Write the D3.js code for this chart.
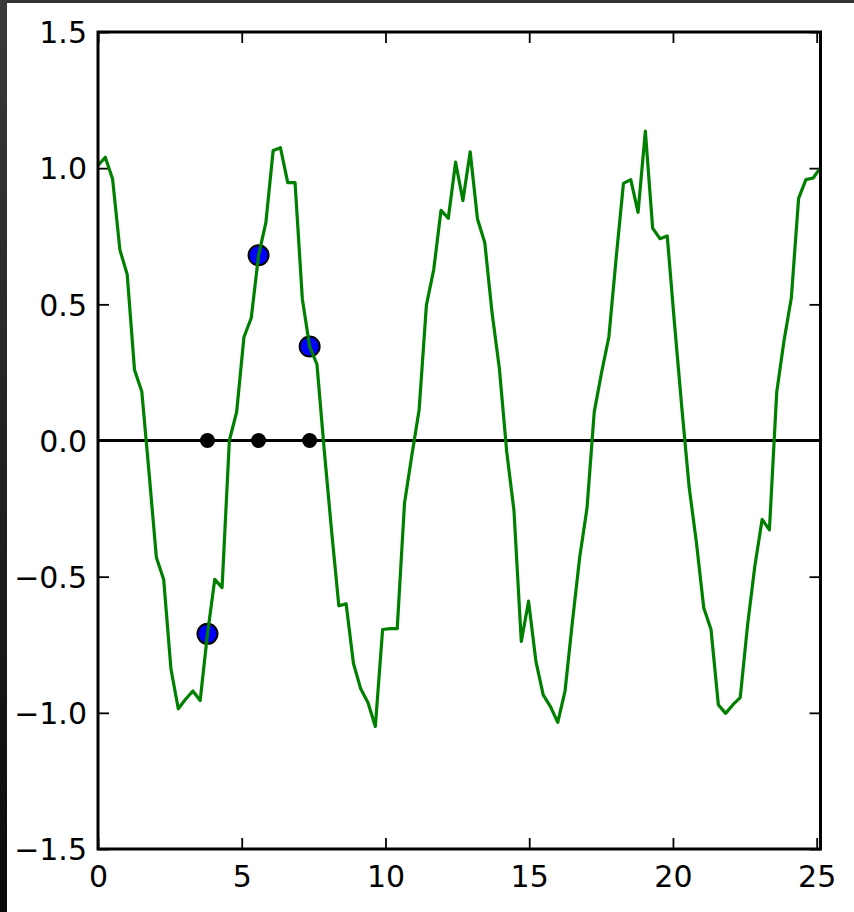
<!DOCTYPE html>
<html>
<head>
<meta charset="utf-8">
<script src="https://cdn.jsdelivr.net/npm/d3@7"></script>
<style>
  body { margin: 0; background: #fff; }
  svg { display: block; }
  .tick text { font-family: "DejaVu Sans", sans-serif; font-size: 30px; fill: #000; }
</style>
</head>
<body>
<div id="chart"></div>
<script>
// noisy cosine, 100 samples over [0, 8*pi]
const nPts = 100;
const xMax = 8 * Math.PI;
const yVals = [
  1.01, 1.04, 0.96, 0.70, 0.61, 0.26, 0.18, -0.12, -0.43, -0.51,
  -0.84, -0.985, -0.95, -0.92, -0.955, -0.71, -0.51, -0.54, 0.00, 0.105,
  0.38, 0.45, 0.68, 0.80, 1.065, 1.075, 0.947, 0.947, 0.52, 0.345,
  0.28, -0.035, -0.33, -0.607, -0.60, -0.818, -0.912, -0.963, -1.05, -0.694,
  -0.691, -0.691, -0.23, -0.055, 0.112, 0.497, 0.627, 0.845, 0.816, 1.022,
  0.881, 1.06, 0.813, 0.726, 0.468, 0.264, -0.04, -0.258, -0.738, -0.59,
  -0.81, -0.934, -0.977, -1.035, -0.919, -0.667, -0.43, -0.25, 0.105, 0.25,
  0.38, 0.67, 0.944, 0.958, 0.838, 1.136, 0.78, 0.741, 0.751, 0.427,
  0.12, -0.171, -0.375, -0.614, -0.694, -0.97, -1.002, -0.97, -0.944, -0.68,
  -0.462, -0.29, -0.328, 0.177, 0.366, 0.523, 0.889, 0.958, 0.964, 1.002
];
// picked samples (every 7th point from 15)
const sampleIdx = [15, 22, 29];

const xTicks = [0, 5, 10, 15, 20, 25];
const yTicks = [-1.5, -1.0, -0.5, 0.0, 0.5, 1.0, 1.5];

const W = 854, H = 912;
const plotL = 98, plotR = 820.5, plotT = 32, plotB = 849;

const svg = d3.select("#chart").append("svg")
    .attr("width", W)
    .attr("height", H);

// dark edges of the screenshot
const grad = svg.append("defs").append("linearGradient")
    .attr("id", "edge").attr("x1", 0).attr("y1", 0).attr("x2", 0).attr("y2", 1);
grad.append("stop").attr("offset", "0%").attr("stop-color", "#3a3a3a");
grad.append("stop").attr("offset", "100%").attr("stop-color", "#0a0a0a");
svg.append("rect").attr("x", 0).attr("y", 0).attr("width", W).attr("height", 3).attr("fill", "#333");
svg.append("rect").attr("x", 0).attr("y", 0).attr("width", 7).attr("height", H).attr("fill", "url(#edge)");

const x = d3.scaleLinear().domain([0, xMax]).range([plotL, plotR]);
const y = d3.scaleLinear().domain([-1.5, 1.5]).range([plotB, plotT]);

const data = yVals.map((v, i) => ({x: i * xMax / (nPts - 1), y: v}));
const samples = sampleIdx.map(i => data[i]);

const minus = d => d3.format(".1f")(d).replace("-", "\u2212");

// axes, ticks point inward
svg.append("g")
    .attr("transform", `translate(0, ${plotB})`)
    .call(d3.axisBottom(x).tickValues(xTicks).tickSizeInner(-11).tickSizeOuter(0).tickPadding(16).tickFormat(d3.format("d")))
    .call(g => g.select(".domain").remove())
    .call(g => g.selectAll(".tick line").attr("stroke-width", 1.8))
    .call(g => g.selectAll(".tick text").attr("dy", null).attr("y", 38));

svg.append("g")
    .attr("transform", `translate(0, ${plotT})`)
    .call(d3.axisTop(x).tickValues(xTicks).tickSizeInner(-11).tickSizeOuter(0).tickFormat(""))
    .call(g => g.select(".domain").remove())
    .call(g => g.selectAll(".tick line").attr("stroke-width", 1.8));

svg.append("g")
    .attr("transform", `translate(${plotL}, 0)`)
    .call(d3.axisLeft(y).tickValues(yTicks).tickSizeInner(-11).tickSizeOuter(0).tickPadding(11).tickFormat(minus))
    .call(g => g.select(".domain").remove())
    .call(g => g.selectAll(".tick line").attr("stroke-width", 1.8))
    .call(g => g.selectAll(".tick text").attr("dy", "0.36em"));

svg.append("g")
    .attr("transform", `translate(${plotR}, 0)`)
    .call(d3.axisRight(y).tickValues(yTicks).tickSizeInner(-11).tickSizeOuter(0).tickFormat(""))
    .call(g => g.select(".domain").remove())
    .call(g => g.selectAll(".tick line").attr("stroke-width", 1.8));

// scatter of picked samples (drawn under the lines)
svg.selectAll(".blue")
    .data(samples)
    .enter().append("circle")
    .attr("class", "blue")
    .attr("cx", d => x(d.x))
    .attr("cy", d => y(d.y))
    .attr("r", 10)
    .attr("fill", "#0000ff")
    .attr("stroke", "#000")
    .attr("stroke-width", 2);

svg.selectAll(".black")
    .data(samples)
    .enter().append("circle")
    .attr("class", "black")
    .attr("cx", d => x(d.x))
    .attr("cy", y(0))
    .attr("r", 7.5)
    .attr("fill", "#000");

// zero line
svg.append("line")
    .attr("x1", x(0)).attr("x2", x(xMax))
    .attr("y1", y(0)).attr("y2", y(0))
    .attr("stroke", "#000")
    .attr("stroke-width", 2.8);

const line = d3.line().x(d => x(d.x)).y(d => y(d.y));

svg.append("path")
    .datum(data)
    .attr("d", line)
    .attr("fill", "none")
    .attr("stroke", "#008000")
    .attr("stroke-width", 3.2)
    .attr("stroke-linejoin", "round");

// frame
svg.append("rect")
    .attr("x", plotL).attr("y", plotT)
    .attr("width", plotR - plotL).attr("height", plotB - plotT)
    .attr("fill", "none")
    .attr("stroke", "#000")
    .attr("stroke-width", 3);
</script>
</body>
</html>
